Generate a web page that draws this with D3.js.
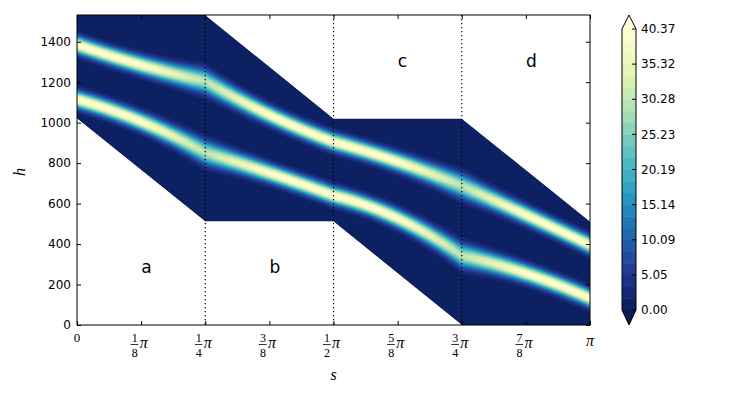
<!DOCTYPE html>
<html>
<head>
<meta charset="utf-8">
<script src="https://cdn.jsdelivr.net/npm/d3@7"></script>
<style>
    body { margin: 0; background: #fff; }
    svg { display: block; }
</style>
</head>
<body>
<div id="content"></div>
<script>

// ridge centre lines (h), read at s = 0, pi/8, ... , pi
var knotS = [0, 1, 2, 3, 4, 5, 6, 7, 8];
var upperRidge = [1385, 1285, 1205, 1038, 905, 807, 688, 544, 395];
var lowerRidge = [1115, 1005, 852, 751, 640, 527, 343, 255, 132];

// ridge height and spread, read at s = 0, pi/16, ... , pi
var ridgePeak = [40.3, 40.3, 39.5, 35.0, 30.0, 35.0, 39.5, 40.3, 40.3, 40.3, 39.5, 35.0, 30.0, 35.0, 39.5, 40.3, 40.3];
var ridgeWidth = [28, 28, 29, 32, 38, 32, 29, 28, 28, 28, 29, 32, 38, 32, 29, 28, 28];

// outline of the computed region, s = 0, pi/4, pi/2, 3pi/4, pi
var regionS = [0, 1, 2, 3, 4];
var regionTop = [1532, 1532, 1021, 1021, 511];
var regionBottom = [1021, 511, 511, 0, 0];

// contour levels (24 bands) and colour bar labels
var levels = [0, 1.682, 3.364, 5.046, 6.728, 8.410, 10.093, 11.775, 13.457, 15.139, 16.821, 18.503,
    20.185, 21.867, 23.549, 25.231, 26.913, 28.595, 30.278, 31.960, 33.642, 35.324, 37.006, 38.688, 40.37];
var colorTickValues = [0, 5.046, 10.093, 15.139, 20.185, 25.231, 30.278, 35.324, 40.37];
var colorTickLabels = ["0.00", "5.05", "10.09", "15.14", "20.19", "25.23", "30.28", "35.32", "40.37"];

var yTicks = [0, 200, 400, 600, 800, 1000, 1200, 1400];
var xTicks = [0, 1, 2, 3, 4, 5, 6, 7, 8];   // units of pi/8
var xTickLabels = ["0", "1/8", "1/4", "3/8", "1/2", "5/8", "3/4", "7/8", "\u03c0"];
var dividers = [2, 4, 6];                  // units of pi/8
var regionNames = ["a", "b", "c", "d"];

var hMax = 1532;

function lerp(arr, t) {
    var i = Math.min(arr.length - 2, Math.floor(t));
    var f = t - i;
    return arr[i] * (1 - f) + arr[i + 1] * f;
}

// quadratic through the three knots of each pi/4 segment
function ridgeAt(arr, s8) {
    var seg = Math.min(3, Math.floor(s8 / 2));
    var t = s8 - 2 * seg;
    var y0 = arr[2 * seg], y1 = arr[2 * seg + 1], y2 = arr[2 * seg + 2];
    return y0 * (t - 1) * (t - 2) / 2 - y1 * t * (t - 2) + y2 * t * (t - 1) / 2;
}

function bandColor(k) {
    return d3.interpolateYlGnBu(1 - (k + 0.5) / (levels.length - 1));
}

function chart() {

    var w = 733, h = 400;
    var svg = d3.select("#content").append("svg").attr("width", w).attr("height", h);

    var xScale = d3.scaleLinear().domain([0, Math.PI]).range([77, 590]);
    var yScale = d3.scaleLinear().domain([0, hMax]).range([325, 15]);

    // build the field on a grid
    var nx = 514, ny = 311;
    var values = new Array(nx * ny);
    for (var i = 0; i < nx; i++) {
        var s8 = 8 * i / (nx - 1);
        var cu = ridgeAt(upperRidge, s8);
        var cl = ridgeAt(lowerRidge, s8);
        var pk = lerp(ridgePeak, s8 * 2);
        var wd = lerp(ridgeWidth, s8 * 2);
        for (var j = 0; j < ny; j++) {
            var hv = hMax * (1 - j / (ny - 1));
            var du = (hv - cu) / wd, dl = (hv - cl) / wd;
            values[j * nx + i] = pk * (Math.exp(-du * du / 2) + Math.exp(-dl * dl / 2));
        }
    }

    // clip to the region outline
    var outline = [];
    regionS.forEach(function (s, i) { outline.push([s * Math.PI / 4, regionTop[i]]); });
    regionS.slice().reverse().forEach(function (s, i) {
        outline.push([s * Math.PI / 4, regionBottom[regionS.length - 1 - i]]);
    });
    var outlinePath = d3.line()
        .x(function (d) { return xScale(d[0]); })
        .y(function (d) { return yScale(d[1]); })
        .curve(d3.curveLinearClosed)(outline);

    svg.append("clipPath").attr("id", "region").append("path").attr("d", outlinePath);

    var field = svg.append("g").attr("clip-path", "url(#region)");
    field.append("path").attr("d", outlinePath).attr("fill", bandColor(0));

    var contours = d3.contours().size([nx, ny]).thresholds(levels.slice(1, levels.length - 1))(values);

    var gridToPx = d3.geoTransform({
        point: function (x, y) {
            this.stream.point(
                xScale((x - 0.5) / (nx - 1) * Math.PI),
                yScale(hMax * (1 - (y - 0.5) / (ny - 1))));
        }
    });
    var path = d3.geoPath(gridToPx);

    field.selectAll("path.band")
        .data(contours)
        .enter()
        .append("path")
        .attr("class", "band")
        .attr("d", path)
        .attr("fill", function (d) { return bandColor(levels.indexOf(d.value)); });

    // dotted dividers
    svg.selectAll("line.divider")
        .data(dividers)
        .enter()
        .append("line")
        .attr("x1", function (d) { return xScale(d * Math.PI / 8); })
        .attr("x2", function (d) { return xScale(d * Math.PI / 8); })
        .attr("y1", 15).attr("y2", 325)
        .attr("stroke", "#000")
        .attr("stroke-width", 1.2)
        .attr("stroke-dasharray", "1.2,2.8");

    // region names
    svg.selectAll("text.region")
        .data(regionNames)
        .enter()
        .append("text")
        .attr("x", function (d, i) { return xScale((2 * i + 1) * Math.PI / 8); })
        .attr("y", function (d, i) { return yScale(i < 2 ? 255 : 1275); })
        .text(function (d) { return d; })
        .attr("font-family", "DejaVu Sans")
        .attr("font-size", "17px");

    // axes, ticks pointing inwards
    var xTickPos = xTicks.map(function (d) { return d * Math.PI / 8; });

    svg.append("g").attr("transform", "translate(77,0)")
        .call(d3.axisLeft(yScale).tickValues(yTicks).tickSize(-4).tickPadding(6).tickFormat(d3.format("d")))
        .call(styleAxis);
    svg.append("g").attr("transform", "translate(590,0)")
        .call(d3.axisRight(yScale).tickValues(yTicks).tickSize(-4).tickFormat(""))
        .call(styleAxis);
    svg.append("g").attr("transform", "translate(0,325)")
        .call(d3.axisBottom(xScale).tickValues(xTickPos).tickSize(-4).tickFormat(""))
        .call(styleAxis);
    svg.append("g").attr("transform", "translate(0,15)")
        .call(d3.axisTop(xScale).tickValues(xTickPos).tickSize(-4).tickFormat(""))
        .call(styleAxis);

    svg.append("rect")
        .attr("x", 77).attr("y", 15)
        .attr("width", 513).attr("height", 310)
        .attr("fill", "none").attr("stroke", "#000").attr("stroke-width", 1);

    // x tick labels as fractions of pi
    var xl = svg.selectAll("g.xlabel")
        .data(xTickLabels)
        .enter()
        .append("g")
        .attr("class", "xlabel")
        .attr("transform", function (d, i) { return "translate(" + xScale(xTickPos[i]) + ",0)"; })
        .attr("font-family", "Liberation Serif");

    xl.each(function (d) {
        var g = d3.select(this);
        if (d.indexOf("/") < 0) {
            g.append("text")
                .attr("text-anchor", "middle")
                .attr("y", d === "0" ? 342 : 346)
                .attr("font-size", d === "0" ? "13px" : "16px")
                .attr("font-style", d === "0" ? "normal" : "italic")
                .text(d);
            return;
        }
        var parts = d.split("/");
        g.append("text").attr("x", -6.5).attr("y", 342).attr("text-anchor", "middle")
            .attr("font-size", "12px").text(parts[0]);
        g.append("line").attr("x1", -10.5).attr("x2", -2.8).attr("y1", 344.5).attr("y2", 344.5)
            .attr("stroke", "#000").attr("stroke-width", 0.8);
        g.append("text").attr("x", -6.5).attr("y", 356.5).attr("text-anchor", "middle")
            .attr("font-size", "12px").text(parts[1]);
        g.append("text").attr("x", -1.5).attr("y", 348)
            .attr("font-size", "16px").attr("font-style", "italic").text("\u03c0");
    });

    // axis titles
    svg.append("text")
        .attr("x", xScale(Math.PI / 2)).attr("y", 380)
        .attr("text-anchor", "middle")
        .attr("font-family", "Liberation Serif").attr("font-style", "italic").attr("font-size", "16px")
        .text("s");
    svg.append("text")
        .attr("transform", "translate(25,172) rotate(-90)")
        .attr("text-anchor", "middle")
        .attr("font-family", "Liberation Serif").attr("font-style", "italic").attr("font-size", "16px")
        .text("h");

    // colour bar
    var cScale = d3.scaleLinear().domain([0, 40.37]).range([310, 29]);
    var cb = svg.append("g");
    cb.selectAll("rect")
        .data(levels.slice(0, levels.length - 1))
        .enter()
        .append("rect")
        .attr("x", 622)
        .attr("y", function (d, i) { return cScale(levels[i + 1]); })
        .attr("width", 14)
        .attr("height", function (d, i) { return cScale(levels[i]) - cScale(levels[i + 1]) + 0.5; })
        .attr("fill", function (d, i) { return bandColor(i); });

    cb.append("path").attr("d", "M622,29L629,15L636,29Z").attr("fill", d3.interpolateYlGnBu(0));
    cb.append("path").attr("d", "M622,310L629,325L636,310Z").attr("fill", d3.interpolateYlGnBu(1));

    cb.selectAll("line.ctick")
        .data(colorTickValues)
        .enter()
        .append("line")
        .attr("class", "ctick")
        .attr("x1", 632).attr("x2", 636)
        .attr("y1", function (d) { return cScale(d); })
        .attr("y2", function (d) { return cScale(d); })
        .attr("stroke", "#000");

    cb.selectAll("text")
        .data(colorTickLabels)
        .enter()
        .append("text")
        .attr("x", 641)
        .attr("y", function (d, i) { return cScale(colorTickValues[i]); })
        .attr("dy", "0.35em")
        .text(function (d) { return d; })
        .attr("font-family", "DejaVu Sans")
        .attr("font-size", "12px");

    cb.append("path")
        .attr("d", "M622,29L629,15L636,29L636,310L629,325L622,310Z")
        .attr("fill", "none").attr("stroke", "#000").attr("stroke-width", 1);
}

function styleAxis(g) {
    g.select(".domain").remove();
    g.selectAll(".tick line").attr("stroke", "#000");
    g.selectAll(".tick text")
        .attr("fill", "#000")
        .attr("font-family", "DejaVu Sans")
        .attr("font-size", "12px");
}

chart();
</script>
</body>
</html>
